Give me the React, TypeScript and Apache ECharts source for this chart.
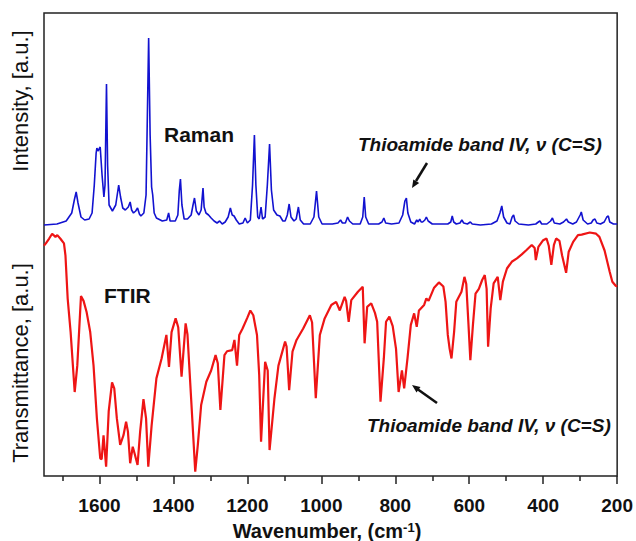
import React, { useEffect, useRef } from "react";
import * as echarts from "echarts";

// Raman spectrum: [wavenumber (cm-1), intensity (a.u.)]
const ramanPoints: [number, number][] = [
  [1750, 0], [1715, 1], [1690, 4], [1675, 12], [1668, 25], [1663, 33], [1658, 22], [1650, 8],
  [1640, 5], [1628, 6], [1620, 12], [1614, 40], [1609, 72], [1607, 77], [1604, 74], [1601, 76],
  [1598, 78], [1593, 50], [1588, 28], [1585, 40], [1581, 141], [1578, 60], [1574, 20], [1565, 14],
  [1556, 20], [1548, 40], [1543, 28], [1537, 17], [1530, 15], [1522, 18], [1517, 23], [1513, 15],
  [1508, 12], [1502, 14], [1497, 17], [1492, 11], [1488, 9], [1480, 12], [1474, 30], [1470, 120],
  [1467, 187], [1463, 90], [1459, 38], [1456, 30], [1452, 12], [1446, 7], [1430, 4], [1418, 5],
  [1413, 12], [1409, 4], [1395, 4], [1388, 10], [1384, 35], [1381, 46], [1377, 20], [1371, 6],
  [1362, 6], [1352, 10], [1347, 20], [1343, 27], [1338, 14], [1331, 10], [1325, 15], [1320, 37],
  [1317, 18], [1312, 12], [1305, 10], [1298, 7], [1290, 4], [1282, 2], [1275, 4], [1268, 1],
  [1260, 3], [1252, 8], [1246, 17], [1241, 10], [1236, 9], [1230, 5], [1222, 1], [1212, 2],
  [1206, 7], [1200, 2], [1192, 5], [1186, 40], [1181, 90], [1177, 40], [1172, 8], [1168, 6],
  [1163, 18], [1159, 6], [1152, 8], [1146, 40], [1140, 81], [1135, 35], [1129, 15], [1120, 10],
  [1112, 9], [1104, 4], [1098, 4], [1092, 10], [1087, 21], [1082, 8], [1074, 4], [1068, 6],
  [1062, 18], [1057, 5], [1048, 1], [1030, 1], [1020, 8], [1013, 34], [1007, 8], [998, 1],
  [970, 1], [955, 2], [948, 5], [943, 2], [935, 2], [929, 8], [924, 4], [915, 1], [895, 1],
  [888, 8], [884, 28], [880, 8], [872, 1], [845, 1], [836, 3], [831, 7], [826, 2], [810, 1],
  [790, 2], [780, 10], [774, 24], [770, 27], [766, 12], [758, 3], [748, 1], [742, 5], [738, 3],
  [734, 6], [730, 3], [726, 3], [720, 5], [716, 8], [711, 4], [700, 1], [670, 1], [658, 1],
  [650, 3], [646, 9], [642, 3], [635, 1], [625, 2], [620, 5], [615, 2], [605, 1], [597, 3],
  [592, 1], [570, 0], [540, 1], [525, 4], [517, 12], [512, 19], [507, 8], [498, 2], [490, 1],
  [484, 8], [480, 10], [476, 4], [466, 1], [440, 0], [420, 1], [413, 3], [409, 4], [404, 1],
  [390, 1], [380, 4], [375, 7], [370, 2], [355, 1], [345, 3], [337, 6], [332, 3], [320, 1],
  [310, 3], [300, 10], [297, 13], [292, 5], [280, 1], [270, 2], [265, 5], [260, 6], [255, 2],
  [245, 1], [235, 3], [228, 8], [224, 9], [220, 3], [210, 1], [200, 1],
];

// FTIR spectrum: [wavenumber (cm-1), transmittance (a.u.)]
const ftirPoints: [number, number][] = [
  [1750, 96], [1745, 97], [1736, 99], [1728, 101], [1719, 99.7], [1714, 100.4], [1705, 98.8],
  [1696, 97], [1692, 92], [1686, 74], [1678, 60], [1667, 35], [1660, 46], [1650, 75], [1643, 73],
  [1635, 68.5], [1625, 60], [1616, 46], [1607, 24], [1598, 7.4], [1594, 7], [1589, 17],
  [1582, 3.9], [1575, 27], [1566, 39], [1560, 36.5], [1553, 24], [1544, 13], [1535, 17],
  [1528, 22.6], [1523, 18.5], [1517, 5.3], [1510, 12.2], [1505, 9.4], [1497, 4.6], [1490, 18.5],
  [1481, 32], [1474, 24], [1468, 3.9], [1459, 21], [1446, 40.7], [1432, 49], [1419, 58.8],
  [1412, 45.5], [1405, 60], [1394, 65.7], [1387, 62], [1378, 41.4], [1367, 63.6], [1362, 59],
  [1352, 32], [1341, 1.8], [1334, 13], [1325, 29.6], [1311, 39.3], [1298, 44], [1286, 50.4],
  [1280, 47], [1273, 27.5], [1262, 50.4], [1255, 52], [1241, 52.5], [1235, 56.7], [1228, 46],
  [1222, 58.8], [1213, 61.5], [1200, 66], [1192, 69], [1184, 67], [1174, 58.8], [1168, 42],
  [1163, 14.3], [1152, 47.6], [1145, 44], [1140, 10.8], [1127, 32], [1116, 46], [1098, 56],
  [1094, 54], [1087, 35.8], [1078, 51.8], [1067, 56.7], [1049, 61.5], [1031, 67], [1025, 64],
  [1015, 32.4], [1004, 58.8], [991, 65.7], [973, 71.3], [960, 72.6], [950, 69], [937, 74.7],
  [933, 73], [926, 64.3], [919, 73.3], [901, 76.8], [888, 78.9], [883, 55.3], [876, 70.5],
  [865, 72], [855, 68], [849, 64.3], [840, 31], [831, 49], [825, 64.3], [816, 66.4], [807, 62.5],
  [798, 53], [791, 35], [782, 44], [776, 36.5], [767, 49], [758, 63], [749, 67.8], [742, 62.2],
  [736, 69], [722, 71.3], [716, 74], [710, 73], [695, 78.5], [682, 80.7], [670, 79], [664, 72.6],
  [658, 58.8], [653, 53], [648, 49], [641, 60], [635, 72.6], [628, 74.7], [621, 76.8], [613, 83],
  [608, 80], [602, 63], [597, 48.3], [590, 63], [583, 76], [574, 78], [565, 81.7], [558, 83.75],
  [553, 78], [549, 53.9], [542, 69.9], [534, 80.3], [523, 83], [516, 73.3], [509, 81], [498, 86.5],
  [485, 89.3], [471, 90.7], [458, 92.4], [445, 94.2], [431, 96.3], [423, 95], [420, 90],
  [413, 95.5], [400, 98.3], [391, 99], [385, 96], [378, 88], [371, 96.3], [365, 99], [356, 98],
  [349, 92], [338, 84.7], [331, 93.5], [319, 97.6], [306, 100.4], [296, 100.6], [274, 101.5],
  [257, 101], [248, 99.7], [234, 94], [220, 85], [213, 81], [204, 79.3], [200, 79],
];

const xMajorTicks = [1600, 1400, 1200, 1000, 800, 600, 400, 200];
const xMinorTicks = [1700, 1500, 1300, 1100, 900, 700, 500, 300];

const FONT = '"Liberation Sans", Arial, sans-serif';
const AXIS_COLOR = "#222";

export default function App() {
  const ref = useRef<HTMLDivElement>(null);

  useEffect(() => {
    if (!ref.current) return;
    const chart = echarts.init(ref.current, null, { renderer: "svg" });

    const baseX = {
      type: "value",
      inverse: true,
      min: 200,
      max: 1750,
      position: "bottom",
      axisLine: { show: false, onZero: false },
      splitLine: { show: false },
    };

    const annotation = "Thioamide band IV, \u03bd (C=S)";

    chart.setOption({
      animation: false,
      backgroundColor: "#ffffff",
      grid: {
        left: 44,
        top: 13,
        width: 577,
        height: 463,
        show: true,
        borderColor: AXIS_COLOR,
        borderWidth: 1.5,
        backgroundColor: "transparent",
      },
      xAxis: [
        {
          ...baseX,
          axisTick: {
            show: true,
            customValues: xMinorTicks,
            length: 5,
            lineStyle: { color: AXIS_COLOR, width: 1.5 },
          },
          axisLabel: { show: false },
        },
        {
          ...baseX,
          axisTick: {
            show: true,
            customValues: xMajorTicks,
            length: 8,
            lineStyle: { color: AXIS_COLOR, width: 1.5 },
          },
          axisLabel: {
            show: true,
            customValues: xMajorTicks,
            formatter: (v: number) => String(v),
            fontSize: 19,
            fontWeight: "bold",
            fontFamily: FONT,
            color: "#111",
            margin: 20,
            lineHeight: 19,
          },
        },
      ],
      yAxis: [
        { type: "value", min: -251, max: 212, show: false },
        { type: "value", min: 0, max: 193, show: false },
      ],
      series: [
        {
          type: "line",
          name: "Raman",
          xAxisIndex: 0,
          yAxisIndex: 0,
          data: ramanPoints,
          symbol: "none",
          showSymbol: false,
          lineStyle: { color: "#1212d0", width: 1.6 },
          silent: true,
        },
        {
          type: "line",
          name: "FTIR",
          xAxisIndex: 0,
          yAxisIndex: 1,
          data: ftirPoints,
          symbol: "none",
          showSymbol: false,
          lineStyle: { color: "#ee1515", width: 2.2 },
          silent: true,
        },
      ],
      graphic: [
        {
          type: "text",
          x: 20,
          y: 101,
          rotation: Math.PI / 2,
          style: {
            text: "Intensity, [a.u.]",
            font: `22px ${FONT}`,
            fill: "#111",
            align: "center",
            verticalAlign: "middle",
            textAlign: "center",
            textVerticalAlign: "middle",
          },
        },
        {
          type: "text",
          x: 20,
          y: 363,
          rotation: Math.PI / 2,
          style: {
            text: "Transmittance, [a.u.]",
            font: `22px ${FONT}`,
            fill: "#111",
            align: "center",
            verticalAlign: "middle",
            textAlign: "center",
            textVerticalAlign: "middle",
          },
        },
        {
          type: "text",
          x: 327,
          y: 531,
          style: {
            text: "{a|Wavenumber, (cm}{b|-1}{a|)}",
            align: "center",
            verticalAlign: "middle",
            textAlign: "center",
            textVerticalAlign: "middle",
            rich: {
              a: { fontSize: 20, fontWeight: "bold", fontFamily: FONT, fill: "#111", color: "#111", lineHeight: 20 },
              b: { fontSize: 13, fontWeight: "bold", fontFamily: FONT, fill: "#111", color: "#111", lineHeight: 20, verticalAlign: "top", padding: [0, 0, 7, 0] },
            },
          },
        },
        {
          type: "text",
          x: 164,
          y: 134,
          style: {
            text: "Raman",
            font: `bold 21px ${FONT}`,
            fill: "#111",
            align: "left",
            verticalAlign: "middle",
            textAlign: "left",
            textVerticalAlign: "middle",
          },
        },
        {
          type: "text",
          x: 104,
          y: 295,
          style: {
            text: "FTIR",
            font: `bold 21px ${FONT}`,
            fill: "#111",
            align: "left",
            verticalAlign: "middle",
            textAlign: "left",
            textVerticalAlign: "middle",
          },
        },
        {
          type: "text",
          x: 358,
          y: 144,
          style: {
            text: annotation,
            font: `italic bold 19px ${FONT}`,
            fill: "#111",
            align: "left",
            verticalAlign: "middle",
            textAlign: "left",
            textVerticalAlign: "middle",
          },
        },
        {
          type: "text",
          x: 367,
          y: 425,
          style: {
            text: annotation,
            font: `italic bold 19px ${FONT}`,
            fill: "#111",
            align: "left",
            verticalAlign: "middle",
            textAlign: "left",
            textVerticalAlign: "middle",
          },
        },
        // top arrow
        {
          type: "line",
          shape: { x1: 427, y1: 163, x2: 416, y2: 181 },
          style: { stroke: "#111", lineWidth: 2.5 },
        },
        {
          type: "polygon",
          shape: { points: [[412, 188], [419.2, 183.1], [413.3, 179.4]] },
          style: { fill: "#111" },
        },
        // bottom arrow
        {
          type: "line",
          shape: { x1: 437, y1: 403, x2: 418, y2: 389.5 },
          style: { stroke: "#111", lineWidth: 2.5 },
        },
        {
          type: "polygon",
          shape: { points: [[412, 385], [420.5, 386.9], [416.5, 392.5]] },
          style: { fill: "#111" },
        },
      ],
    });

    return () => chart.dispose();
  }, []);

  return (
    <div
      ref={ref}
      style={{ position: "fixed", left: 0, top: 0, width: 636, height: 541 }}
    />
  );
}
